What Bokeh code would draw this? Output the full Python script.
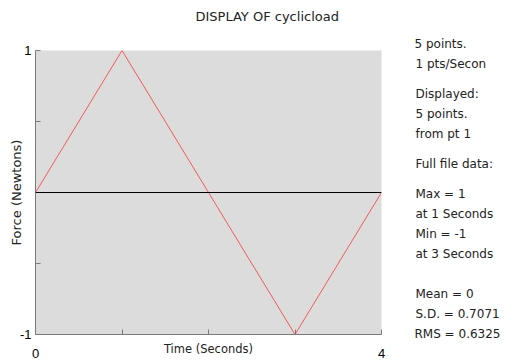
from bokeh.plotting import figure
from bokeh.layouts import row
from bokeh.models import Range1d, FixedTicker, Span, Label, Title
from bokeh.embed import file_html
from bokeh.resources import INLINE

# cyclic load samples
time_s = [0, 1, 2, 3, 4]
force_n = [0, 1, 0, -1, 0]

x_ticks = [0, 1, 2, 3, 4]
y_ticks = [-1, -0.5, 0, 0.5, 1]

# summary panel: text and its row (in half-line steps)
info_lines = [
    "5 points.", "1 pts/Secon", "Displayed:", "5 points.", "from pt 1",
    "Full file data:", "Max  = 1", "at 1 Seconds", "Min  = -1", "at 3 Seconds",
    "Mean = 0", "S.D. = 0.7071", "RMS  = 0.6325",
]
info_rows = [0, 2, 5, 7, 9, 12, 15, 17, 19, 21, 25, 27, 29]

FONT = "DejaVu Sans"
TICK_FONT = "Liberation Sans"
TEXT_COLOR = "#222222"

W, H = 512, 361
MAIN_W = 390
FRAME_LEFT, FRAME_RIGHT = 35, 381
FRAME_TOP, FRAME_BOTTOM = 50, 334
INFO_X, INFO_Y0, INFO_STEP = 415, 43, 10

p = figure(width=MAIN_W, height=H, output_backend="svg", toolbar_location=None,
           x_range=Range1d(0, 4), y_range=Range1d(-1, 1),
           min_border_left=FRAME_LEFT, min_border_right=MAIN_W - FRAME_RIGHT,
           min_border_top=FRAME_TOP, min_border_bottom=H - FRAME_BOTTOM)
p.title = None
p.outline_line_color = None
p.background_fill_color = "#dcdcdc"
p.border_fill_color = "white"
p.grid.visible = False

p.line(time_s, force_n, line_color="#f05a5a", line_width=1)
p.add_layout(Span(location=0, dimension="width", line_color="black", line_width=1))

# title, lifted off the frame by a blank spacer row
title_style = dict(text_font=FONT, text_font_size="13px", text_font_style="normal",
                   text_color=TEXT_COLOR)
p.add_layout(Title(text=" ", standoff=10, **title_style), "above")
p.add_layout(Title(text="DISPLAY OF cyclicload", align="left", vertical_align="bottom",
                   offset=160, standoff=0, **title_style), "above")

for ax in (p.xaxis[0], p.yaxis[0]):
    ax.axis_line_color = "#7a7a7a"
    ax.major_tick_line_color = "#7a7a7a"
    ax.major_tick_in = 5
    ax.major_tick_out = 0
    ax.minor_tick_line_color = None
    ax.major_label_text_font = TICK_FONT
    ax.major_label_text_font_size = "13px"
    ax.major_label_text_color = "black"
    ax.axis_label_text_font = FONT
    ax.axis_label_text_font_style = "normal"
    ax.axis_label_text_color = TEXT_COLOR

p.xaxis.ticker = FixedTicker(ticks=x_ticks)
p.xaxis.major_label_overrides = {t: ("" if t not in (0, 4) else str(t)) for t in x_ticks}
p.xaxis.major_label_standoff = 14
p.xaxis.axis_label = "Time (Seconds)"
p.xaxis.axis_label_text_font_size = "11.5px"
p.xaxis.axis_label_standoff = -19

p.yaxis.ticker = FixedTicker(ticks=y_ticks)
p.yaxis.major_label_overrides = {t: ("" if t not in (-1, 1) else str(t)) for t in y_ticks}
p.yaxis.major_label_standoff = 4
p.yaxis.axis_label = "Force (Newtons)"
p.yaxis.axis_label_text_font_size = "13px"
p.yaxis.axis_label_standoff = -7

# side panel with the file summary (its frame lines up with the main frame)
SIDE_W = W - MAIN_W
side = figure(width=SIDE_W, height=H, output_backend="svg", toolbar_location=None,
              x_range=Range1d(0, SIDE_W), y_range=Range1d(0, H),
              min_border_left=0, min_border_right=0,
              min_border_top=FRAME_TOP, min_border_bottom=H - FRAME_BOTTOM,
              outline_line_color=None)
side.axis.visible = False
side.grid.visible = False
side.background_fill_color = "white"
side.border_fill_color = "white"

text_style = dict(text_font=FONT, text_font_size="12px", text_color=TEXT_COLOR)

n = len(info_lines)
for i, (text, r) in enumerate(zip(info_lines, info_rows)):
    cy = INFO_Y0 + INFO_STEP * r
    if i == 0:
        # first line sits above the frame: use the panel title
        side.title.text = text
        side.title.align = "left"
        side.title.vertical_align = "bottom"
        side.title.offset = INFO_X - MAIN_W - 1
        side.title.standoff = 0
        side.title.text_font_style = "normal"
        for k, v in text_style.items():
            setattr(side.title, k, v)
    elif i == n - 1:
        # last line straddles the frame's lower edge
        side.add_layout(Title(text=text, align="left", vertical_align="top",
                              offset=INFO_X - MAIN_W - 1, standoff=-16,
                              text_font_style="normal", **text_style), "below")
    else:
        side.add_layout(Label(x=INFO_X - MAIN_W, y=FRAME_BOTTOM - cy, x_units="screen",
                              y_units="screen", text=text, text_baseline="middle",
                              **text_style))

layout = row(p, side, spacing=0)
open("out.html", "w").write(file_html(layout, INLINE))
